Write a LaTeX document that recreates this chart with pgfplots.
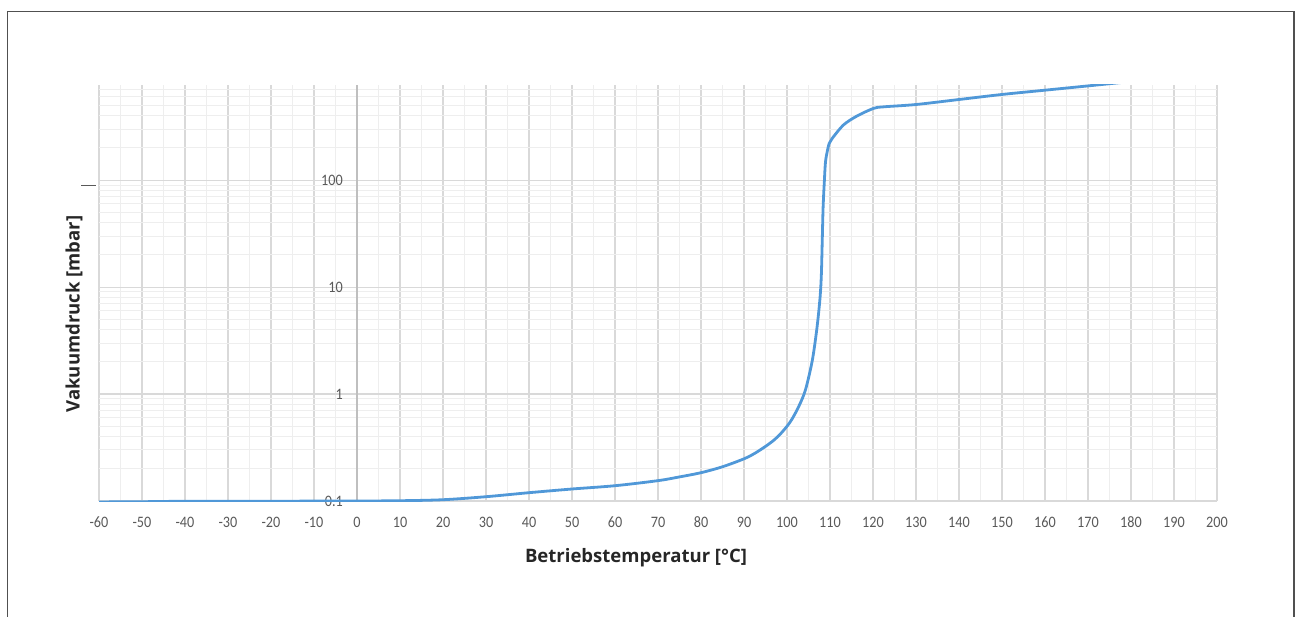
\documentclass[border=0pt]{standalone}
\usepackage{fontspec}
\setmainfont{Carlito}
\newfontfamily\tickfont[FakeStretch=0.89]{Carlito}
\newfontfamily\labelfont{Open Sans}
\usepackage{pgfplots}
\pgfplotsset{compat=1.18}
\definecolor{curve}{RGB}{80,152,216}
\definecolor{gridmajor}{RGB}{217,217,217}
\definecolor{gridminor}{RGB}{238,238,238}
\definecolor{ticktext}{RGB}{89,89,89}
\definecolor{framecol}{RGB}{80,80,80}
\begin{document}
\begin{tikzpicture}
\begin{axis}[%
at={(99bp,-501bp)}, anchor=south west,
scale only axis, width=1118bp, height=416bp,
xmin=-60, xmax=200,
ymode=log, ymin=0.1, ymax=775,
xtick distance=10, minor x tick num=1,
ytick={0.1,1,10,100}, yticklabels={0.1,1,10,100},
minor ytick={0.2,0.3,0.4,0.5,0.6,0.7,0.8,0.9,2,3,4,5,6,7,8,9,20,30,40,50,60,70,80,90,200,300,400,500,600,700},
grid=both,
major grid style={gridmajor, line width=1.1bp},
minor grid style={gridminor, line width=1bp},
axis line style={draw=none},
major tick length=0pt, minor tick length=0pt,
tick label style={font=\tickfont\fontsize{16}{17}\selectfont, text=ticktext},
/pgf/number format/assume math mode=true,
xticklabel style={anchor=center, yshift=-21bp},
yticklabel style={anchor=east, inner sep=0pt, xshift=244bp},
extra x ticks={0}, extra x tick labels={},
extra x tick style={major grid style={color=gray!50, line width=1.1bp}},
]
\addplot[curve, line width=2.8bp, smooth, tension=0.5] coordinates {
(-60,0.098)
(-50,0.0985)
(-40,0.0995)
(-30,0.0995)
(-20,0.0995)
(-10,0.0998)
(0,0.1)
(10,0.1006)
(20,0.1028)
(30,0.1097)
(40,0.1196)
(50,0.1295)
(60,0.139)
(70,0.155)
(75,0.168)
(80,0.184)
(85,0.209)
(90,0.248)
(92.5,0.279)
(95,0.324)
(97,0.372)
(98.5,0.425)
(100,0.50)
(101.2,0.586)
(102.8,0.776)
(104.3,1.096)
(105.9,2.08)
(107.0,4.26)
(107.7,8.1)
(108.0,13.4)
(108.2,27.5)
(108.4,56)
(108.7,100)
(109.0,154)
(109.8,220)
(110.5,245)
(113.1,327)
(116.2,396)
(120.1,468)
(122.4,484)
(130,509)
(140,567)
(150,632)
(160,693)
(170,760)
(180,835)
};
\end{axis}
\draw[framecol, line width=1.3bp] (7.5bp,-700bp) -- (7.5bp,-11.7bp) -- (1294bp,-11.7bp) -- (1294bp,-700bp);
\draw[gray!70!black, line width=1.5bp] (81bp,-185.5bp) -- (95.5bp,-185.5bp);
\node[font=\labelfont\bfseries\fontsize{18.6}{22}\selectfont, text=black!85] at (636bp,-558bp) {Betriebstemperatur [°C]};
\node[rotate=90, font=\labelfont\bfseries\fontsize{18.6}{22}\selectfont, text=black!85] at (74bp,-314bp) {Vakuumdruck [mbar]};
\pgfresetboundingbox
\path[use as bounding box] (0bp,0bp) rectangle (1297bp,-617bp);
\end{tikzpicture}
\end{document}
